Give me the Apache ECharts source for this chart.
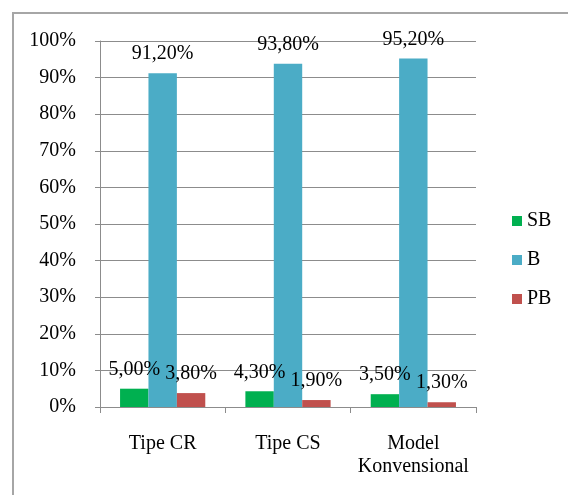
<!DOCTYPE html>
<html>
<head>
<meta charset="utf-8">
<script src="https://cdn.jsdelivr.net/npm/echarts@6/dist/echarts.min.js"></script>
<style>
  html, body { margin: 0; padding: 0; background: #fff; }
  #chart { width: 568px; height: 495px; position: relative; }
  #frame { position: absolute; left: 12px; top: 12px; width: 600px; height: 520px;
           border-left: 2px solid #a6a6a6; border-top: 2px solid #a6a6a6; box-sizing: border-box; pointer-events: none; }
</style>
</head>
<body>
<div id="chart"></div>
<div id="frame"></div>
<script>
// Kategori dan nilai persentase tiap kelompok
const categories = ['Tipe CR', 'Tipe CS', 'Model\nKonvensional'];
const seriesNames = ['SB', 'B', 'PB'];
const sbValues = [5.0, 4.3, 3.5];
const bValues = [91.2, 93.8, 95.2];
const pbValues = [3.8, 1.9, 1.3];
const seriesColors = ['#00B050', '#4BACC6', '#C0504D'];

const FONT = 'Liberation Serif';
const gray = '#8c8c8c';

const fmt = v => v.toFixed(2).replace('.', ',') + '%';

function makeSeries(name, values, color) {
  return {
    name: name,
    type: 'bar',
    data: values,
    barGap: '0%',
    barCategoryGap: '32%',
    itemStyle: { color: color },
    label: {
      show: true,
      position: 'top',
      distance: 9,
      color: '#000',
      fontFamily: FONT,
      fontSize: 20,
      formatter: p => fmt(p.value)
    }
  };
}

const chart = echarts.init(document.getElementById('chart'), null, { renderer: 'canvas' });
chart.setOption({
  animation: false,
  backgroundColor: '#fff',
  textStyle: { fontFamily: FONT },
  grid: { left: 100, right: 92, top: 41, bottom: 88, containLabel: false },
  legend: {
    orient: 'vertical',
    left: 512,
    top: 211,
    padding: 0,
    itemWidth: 10,
    itemHeight: 10,
    itemGap: 19,
    icon: 'rect',
    data: seriesNames,
    textStyle: { fontFamily: FONT, fontSize: 20, color: '#000', lineHeight: 20 }
  },
  xAxis: {
    type: 'category',
    data: categories,
    axisLine: { show: true, lineStyle: { color: gray, width: 1 } },
    axisTick: { show: true, length: 6, alignWithLabel: false, lineStyle: { color: gray } },
    axisLabel: { color: '#000', fontFamily: FONT, fontSize: 20, lineHeight: 23, margin: 25, interval: 0 }
  },
  yAxis: {
    type: 'value',
    min: 0,
    max: 100,
    interval: 10,
    axisLine: { show: true, lineStyle: { color: gray, width: 1 } },
    axisTick: { show: true, length: 5, lineStyle: { color: gray } },
    splitLine: { show: true, lineStyle: { color: gray, width: 1 } },
    axisLabel: { color: '#000', fontFamily: FONT, fontSize: 20, margin: 24, formatter: v => v + '%' }
  },
  series: [
    makeSeries(seriesNames[0], sbValues, seriesColors[0]),
    makeSeries(seriesNames[1], bValues, seriesColors[1]),
    makeSeries(seriesNames[2], pbValues, seriesColors[2])
  ]
});
</script>
</body>
</html>
